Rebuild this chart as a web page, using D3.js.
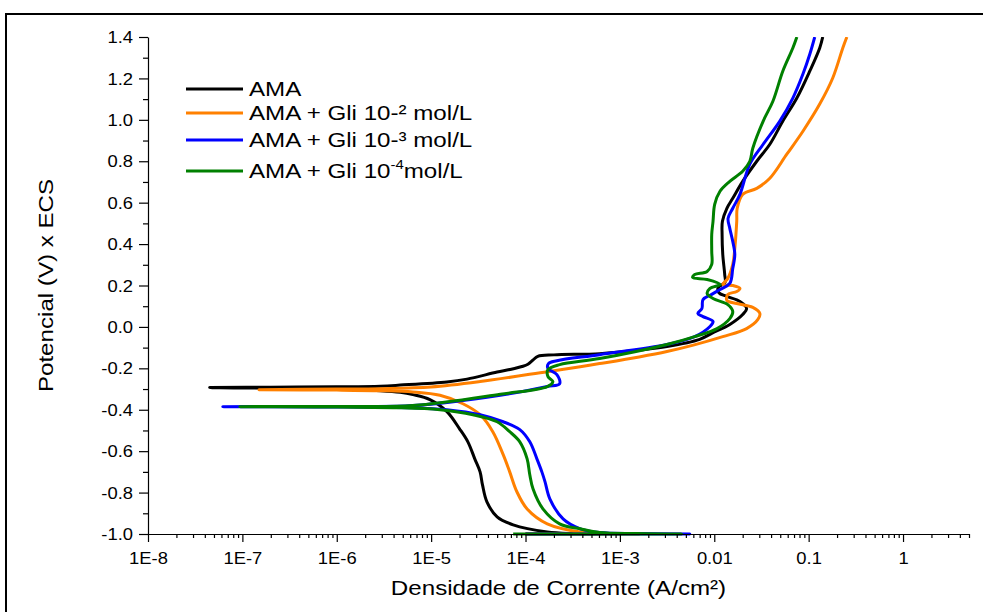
<!DOCTYPE html>
<html><head><meta charset="utf-8">
<script src="https://cdn.jsdelivr.net/npm/d3@7/dist/d3.min.js"></script>
<style>body{margin:0;background:#fff} svg{display:block} text{font-family:"Liberation Sans",Arial,sans-serif;fill:#000}</style>
</head><body><svg id="c" width="983" height="612"></svg>
<script>
// ---- data ----
const seriesNames = ["AMA", "AMA + Gli 10-² mol/L", "AMA + Gli 10-³ mol/L", "AMA + Gli 10"];
const seriesColors = ["#000000", "#ff8000", "#0000ff", "#008000"];
const xTickValues = [1e-8, 1e-7, 1e-6, 1e-5, 1e-4, 1e-3, 1e-2, 1e-1, 1];
const xTickLabels = ["1E-8", "1E-7", "1E-6", "1E-5", "1E-4", "1E-3", "0.01", "0.1", "1"];
const yTickValues = [-1.0, -0.8, -0.6, -0.4, -0.2, 0.0, 0.2, 0.4, 0.6, 0.8, 1.0, 1.2, 1.4];
const yTickLabels = ["-1.0", "-0.8", "-0.6", "-0.4", "-0.2", "0.0", "0.2", "0.4", "0.6", "0.8", "1.0", "1.2", "1.4"];
const xLabel = "Densidade de Corrente (A/cm²)";
const yLabel = "Potencial (V) x ECS";

// [current density (A/cm²), potential (V)]
const ama = [
[1.0e-4,-1.0],[6.1e-4,-1.0],[3.2e-4,-0.998],[1.7e-4,-0.99],[7.4e-5,-0.956],[5.0e-5,-0.917],[3.9e-5,-0.845],[3.5e-5,-0.763],[3.3e-5,-0.70],[2.9e-5,-0.637],[2.45e-5,-0.555],[2.0e-5,-0.492],[1.47e-5,-0.409],[9.7e-6,-0.351],[6.4e-6,-0.327],[4.7e-6,-0.316],[2.9e-6,-0.308],[1.0e-6,-0.300],[2.0e-7,-0.296],[4.5e-8,-0.293],[2.0e-7,-0.291],[1.0e-6,-0.289],[2.9e-6,-0.286],[4.7e-6,-0.281],[1.47e-5,-0.266],[2.4e-5,-0.252],[5.0e-5,-0.218],[6.8e-5,-0.206],[9.4e-5,-0.190],[1.06e-4,-0.180],[1.2e-4,-0.160],[1.35e-4,-0.142],[2.0e-4,-0.135],[6.1e-4,-0.129],[1.6e-3,-0.112],[3.15e-3,-0.095],[7.0e-3,-0.060],[9.5e-3,-0.030],[1.46e-2,0.012],[2.0e-2,0.060],[2.2e-2,0.089],[1.87e-2,0.123],[1.36e-2,0.147],[1.12e-2,0.165],[1.1e-2,0.19],[1.3e-2,0.215],[1.29e-2,0.253],[1.23e-2,0.35],[1.21e-2,0.447],[1.22e-2,0.51],[1.36e-2,0.573],[1.57e-2,0.621],[2.0e-2,0.703],[2.82e-2,0.80],[3.88e-2,0.882],[5.33e-2,0.994],[7.5e-2,1.105],[1.03e-1,1.236],[1.31e-1,1.347],[1.41e-1,1.40]
];
const gli2 = [
[1.0e-4,-1.0],[1.6e-3,-1.0],[8.0e-4,-0.998],[3.8e-4,-0.99],[1.7e-4,-0.951],[1.04e-4,-0.879],[8.1e-5,-0.796],[6.8e-5,-0.70],[5.8e-5,-0.617],[4.5e-5,-0.506],[3.3e-5,-0.424],[2.17e-5,-0.371],[1.24e-5,-0.330],[6.4e-6,-0.314],[2.9e-6,-0.308],[1.0e-6,-0.305],[1.5e-7,-0.303],[1.0e-6,-0.300],[2.9e-6,-0.298],[1.0e-5,-0.290],[3.3e-5,-0.264],[1.7e-4,-0.216],[3.8e-4,-0.192],[6.1e-4,-0.177],[1.6e-3,-0.145],[3.15e-3,-0.119],[6.0e-3,-0.088],[1.23e-2,-0.047],[2.2e-2,-0.008],[2.9e-2,0.036],[3.04e-2,0.065],[2.56e-2,0.094],[1.73e-2,0.113],[1.36e-2,0.128],[1.39e-2,0.157],[1.73e-2,0.171],[1.87e-2,0.186],[1.57e-2,0.200],[1.23e-2,0.205],[1.39e-2,0.234],[1.57e-2,0.302],[1.65e-2,0.379],[1.73e-2,0.510],[1.75e-2,0.573],[2.0e-2,0.640],[2.82e-2,0.669],[3.88e-2,0.718],[5.87e-2,0.834],[8.7e-2,0.945],[0.131,1.076],[0.180,1.202],[0.230,1.347],[0.254,1.40]
];
const gli3 = [
[1.0e-4,-1.0],[5.5e-3,-1.0],[1.5e-3,-0.998],[6.1e-4,-0.993],[3.8e-4,-0.975],[2.5e-4,-0.927],[1.81e-4,-0.830],[1.61e-4,-0.748],[1.49e-4,-0.70],[1.32e-4,-0.637],[1.11e-4,-0.555],[8.7e-5,-0.496],[5.8e-5,-0.458],[3.3e-5,-0.424],[1.47e-5,-0.400],[6.4e-6,-0.390],[1.3e-6,-0.387],[6.2e-8,-0.385],[1.3e-6,-0.384],[6.4e-6,-0.380],[5.4e-5,-0.330],[1.7e-4,-0.288],[2.3e-4,-0.274],[2.15e-4,-0.230],[1.73e-4,-0.201],[1.75e-4,-0.177],[2.15e-4,-0.163],[6.1e-4,-0.134],[3.15e-3,-0.085],[6.2e-3,-0.047],[9.0e-3,0.002],[9.7e-3,0.026],[7.6e-3,0.050],[6.7e-3,0.065],[7.4e-3,0.089],[7.6e-3,0.132],[9.4e-3,0.157],[1.15e-2,0.181],[1.46e-2,0.210],[1.57e-2,0.282],[1.65e-2,0.350],[1.57e-2,0.413],[1.46e-2,0.476],[1.4e-2,0.524],[1.57e-2,0.573],[1.87e-2,0.640],[2.38e-2,0.786],[3.3e-2,0.882],[4.95e-2,0.994],[6.8e-2,1.105],[8.7e-2,1.221],[0.103,1.318],[0.116,1.40]
];
const gli4 = [
[7.4e-5,-1.0],[4.5e-3,-1.0],[1.5e-3,-0.998],[6.1e-4,-0.993],[3.8e-4,-0.975],[2.3e-4,-0.951],[1.53e-4,-0.879],[1.2e-4,-0.782],[1.11e-4,-0.714],[1.04e-4,-0.637],[8.7e-5,-0.555],[6.8e-5,-0.506],[5.0e-5,-0.458],[2.77e-5,-0.424],[1.24e-5,-0.400],[4.35e-6,-0.390],[1.0e-6,-0.387],[9.4e-8,-0.385],[1.0e-6,-0.384],[6.4e-6,-0.380],[5.4e-5,-0.325],[1.7e-4,-0.288],[1.95e-4,-0.264],[1.73e-4,-0.240],[1.73e-4,-0.206],[2.3e-4,-0.182],[6.1e-4,-0.153],[3.15e-3,-0.085],[6.2e-3,-0.047],[1.07e-2,-0.008],[1.46e-2,0.040],[1.57e-2,0.074],[1.39e-2,0.108],[9.7e-3,0.137],[8.4e-3,0.161],[9.0e-3,0.186],[1.15e-2,0.205],[8.4e-3,0.229],[5.9e-3,0.239],[6.2e-3,0.253],[8.4e-3,0.268],[9.4e-3,0.302],[9.4e-3,0.365],[9.4e-3,0.447],[9.7e-3,0.510],[1.01e-2,0.592],[1.15e-2,0.655],[1.46e-2,0.703],[2.0e-2,0.752],[2.38e-2,0.800],[2.56e-2,0.863],[3.3e-2,0.994],[4.18e-2,1.090],[5.33e-2,1.236],[6.8e-2,1.347],[7.5e-2,1.40]
];
const seriesData = [ama, gli2, gli3, gli4];

// ---- chart ----
const SX = 1.15; // horizontal text stretch
const svg = d3.select("#c");
const x = d3.scaleLog().domain([1e-8, 5]).range([148, 969]);
const y = d3.scaleLinear().domain([-1.0, 1.4]).range([534, 37]);

svg.append("path").attr("d", "M6,612V14H983").attr("fill", "none").attr("stroke", "#000").attr("stroke-width", 2);

svg.append("clipPath").attr("id", "clip").append("rect")
  .attr("x", x.range()[0]).attr("y", y(1.4)).attr("width", x.range()[1] - x.range()[0]).attr("height", y(-1.0) - y(1.4) + 3);

const minorX = [];
for (let d = -8; d <= 0; d++) for (let k = 2; k <= 9; k++) { const v = k * Math.pow(10, d); if (v <= 5) minorX.push(v); }
const minorY = d3.range(-9, 14, 2).map(v => v / 10);

// curves
const line = d3.line().x(d => x(d[0])).y(d => y(d[1])).curve(d3.curveCatmullRom.alpha(0.5));
const gc = svg.append("g").attr("clip-path", "url(#clip)");
seriesData.forEach((s, i) => {
  gc.append("path").datum(s).attr("d", line).attr("fill", "none")
    .attr("stroke", seriesColors[i]).attr("stroke-width", 3).attr("stroke-linejoin", "round");
});

// x axis
const gx = svg.append("g").attr("transform", `translate(0,${y(-1.0)})`);
gx.call(d3.axisBottom(x).tickValues(minorX).tickSize(4).tickFormat("")).select(".domain").remove();
gx.append("g").call(d3.axisBottom(x).tickValues(xTickValues).tickFormat((d, i) => xTickLabels[i]).tickSize(8).tickSizeOuter(0));
gx.selectAll("line").attr("stroke", "#000").attr("stroke-width", 1.2);
gx.selectAll(".domain").attr("stroke", "#000").attr("stroke-width", 1.2);
gx.selectAll("text").attr("y", 30).attr("dy", 0).attr("font-size", 16)
  .attr("font-family", "Liberation Sans, Arial, sans-serif").attr("transform", `scale(${SX},1)`);

// y axis
const gy = svg.append("g").attr("transform", `translate(${x(1e-8)},0)`);
gy.call(d3.axisLeft(y).tickValues(minorY).tickSize(5).tickFormat("")).select(".domain").remove();
gy.append("g").call(d3.axisLeft(y).tickValues(yTickValues).tickFormat((d, i) => yTickLabels[i]).tickSize(9).tickSizeOuter(0));
gy.selectAll("line").attr("stroke", "#000").attr("stroke-width", 1.2);
gy.selectAll(".domain").attr("stroke", "#000").attr("stroke-width", 1.2);
gy.selectAll("text").attr("x", -15 / SX).attr("dy", "0.35em").attr("font-size", 16)
  .attr("font-family", "Liberation Sans, Arial, sans-serif").attr("transform", `scale(${SX},1)`);

// axis titles
svg.append("text").attr("text-anchor", "middle").attr("font-size", 21)
  .attr("transform", `translate(${(x.range()[0] + x.range()[1]) / 2},595) scale(${SX},1)`).text(xLabel);
svg.append("text").attr("text-anchor", "middle").attr("font-size", 21)
  .attr("transform", `translate(53,${(y.range()[0] + y.range()[1]) / 2}) rotate(-90) scale(${SX},1)`).text(yLabel);

// legend
const legendY = [89, 113, 140, 171];
seriesNames.forEach((n, i) => {
  svg.append("line").attr("x1", 186).attr("x2", 243).attr("y1", legendY[i]).attr("y2", legendY[i])
    .attr("stroke", seriesColors[i]).attr("stroke-width", 3);
  const t = svg.append("text").attr("font-size", 21)
    .attr("transform", `translate(249,${legendY[i] + 7}) scale(${SX},1)`);
  t.append("tspan").text(n);
  if (i === 3) {
    t.append("tspan").attr("font-size", 13).attr("dy", -9).text("-4");
    t.append("tspan").attr("dy", 9).text("mol/L");
  }
});
</script></body></html>
